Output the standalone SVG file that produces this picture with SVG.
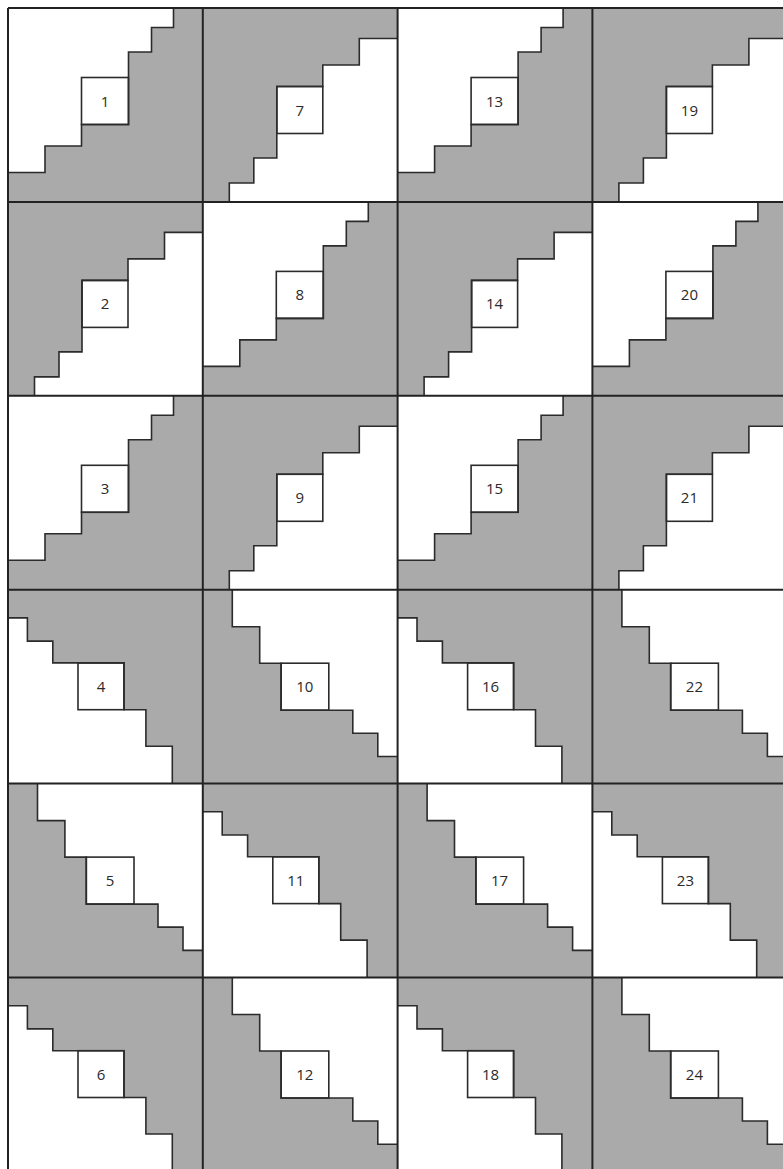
<svg xmlns="http://www.w3.org/2000/svg" xmlns:xlink="http://www.w3.org/1999/xlink" width="783" height="1169" viewBox="0 0 783 1169">
<style>
.bg{fill:#ffffff}
.gray{fill:#aaaaaa;stroke:none}
.stair{fill:none;stroke:#2b2b2b;stroke-width:1.6;stroke-linejoin:miter}
.box{fill:#ffffff;stroke:#2b2b2b;stroke-width:1.6}
.lbl{font-family:"Open Sans","Liberation Sans",sans-serif;font-size:15px;fill:#2a2a2a;text-anchor:middle}
.grid{stroke:#222222;stroke-width:2;fill:none}
</style>
<defs>
<g id="typeP">
<rect class="bg" x="0" y="0" width="194.8" height="193.9"/>
<polygon class="gray" points="165.5,0 165.5,19.5 143.5,19.5 143.5,44 120.5,44 120.5,116.5 73.5,116.5 73.5,138 37,138 37,164.5 0,164.5 0,193.9 194.8,193.9 194.8,0"/>
<rect class="box" x="73.5" y="69.5" width="47" height="47"/>
<path class="stair" d="M165.5,0 V19.5 H143.5 V44 H120.5 V116.5 H73.5 V138 H37 V164.5 H0"/>
</g>
<g id="typeQ">
<rect class="bg" x="0" y="0" width="194.8" height="193.9"/>
<polygon class="gray" points="0,0 194.8,0 194.8,30.5 156.5,30.5 156.5,57 120,57 120,78.5 74,78.5 74,150 51,150 51,175 26.5,175 26.5,193.9 0,193.9"/>
<rect class="box" x="74" y="78.5" width="46" height="47"/>
<path class="stair" d="M194.8,30.5 H156.5 V57 H120 V78.5 H74 V150 H51 V175 H26.5 V193.9"/>
</g>
<g id="typeR">
<rect class="bg" x="0" y="0" width="194.8" height="193.9"/>
<polygon class="gray" points="0,0 194.8,0 194.8,193.9 164.3,193.9 164.3,156.5 137.9,156.5 137.9,120 116,120 116,73.2 44.8,73.2 44.8,51.4 19.4,51.4 19.4,28.2 0,28.2"/>
<rect class="box" x="70" y="73.2" width="46" height="46.8"/>
<path class="stair" d="M0,28.2 H19.4 V51.4 H44.8 V73.2 H116 V120 H137.9 V156.5 H164.3 V193.9"/>
</g>
<g id="typeT">
<rect class="bg" x="0" y="0" width="194.8" height="193.9"/>
<polygon class="gray" points="0,0 29.5,0 29.5,37 56.9,37 56.9,73.5 78.3,73.5 78.3,120.5 150,120.5 150,143.5 175,143.5 175,166.8 194.8,166.8 194.8,193.9 0,193.9"/>
<rect class="box" x="78.3" y="73.5" width="47.7" height="47"/>
<path class="stair" d="M29.5,0 V37 H56.9 V73.5 H78.3 V120.5 H150 V143.5 H175 V166.8 H194.8"/>
</g>
</defs>
<rect x="0" y="0" width="783" height="1169" fill="#ffffff"/>

<g id="cell-1" transform="translate(8,8)"><use xlink:href="#typeP"/><text class="lbl" x="97" y="98.5">1</text></g>
<g id="cell-2" transform="translate(8,201.9)"><use xlink:href="#typeQ"/><text class="lbl" x="97" y="107.5">2</text></g>
<g id="cell-3" transform="translate(8,395.8)"><use xlink:href="#typeP"/><text class="lbl" x="97" y="98.5">3</text></g>
<g id="cell-4" transform="translate(8,589.7)"><use xlink:href="#typeR"/><text class="lbl" x="93" y="102">4</text></g>
<g id="cell-5" transform="translate(8,783.6)"><use xlink:href="#typeT"/><text class="lbl" x="102" y="102.5">5</text></g>
<g id="cell-6" transform="translate(8,977.5)"><use xlink:href="#typeR"/><text class="lbl" x="93" y="102">6</text></g>

<g id="cell-7" transform="translate(202.8,8)"><use xlink:href="#typeQ"/><text class="lbl" x="97" y="107.5">7</text></g>
<g id="cell-8" transform="translate(202.8,201.9)"><use xlink:href="#typeP"/><text class="lbl" x="97" y="98.5">8</text></g>
<g id="cell-9" transform="translate(202.8,395.8)"><use xlink:href="#typeQ"/><text class="lbl" x="97" y="107.5">9</text></g>
<g id="cell-10" transform="translate(202.8,589.7)"><use xlink:href="#typeT"/><text class="lbl" x="102" y="102.5">10</text></g>
<g id="cell-11" transform="translate(202.8,783.6)"><use xlink:href="#typeR"/><text class="lbl" x="93" y="102">11</text></g>
<g id="cell-12" transform="translate(202.8,977.5)"><use xlink:href="#typeT"/><text class="lbl" x="102" y="102.5">12</text></g>

<g id="cell-13" transform="translate(397.6,8)"><use xlink:href="#typeP"/><text class="lbl" x="97" y="98.5">13</text></g>
<g id="cell-14" transform="translate(397.6,201.9)"><use xlink:href="#typeQ"/><text class="lbl" x="97" y="107.5">14</text></g>
<g id="cell-15" transform="translate(397.6,395.8)"><use xlink:href="#typeP"/><text class="lbl" x="97" y="98.5">15</text></g>
<g id="cell-16" transform="translate(397.6,589.7)"><use xlink:href="#typeR"/><text class="lbl" x="93" y="102">16</text></g>
<g id="cell-17" transform="translate(397.6,783.6)"><use xlink:href="#typeT"/><text class="lbl" x="102" y="102.5">17</text></g>
<g id="cell-18" transform="translate(397.6,977.5)"><use xlink:href="#typeR"/><text class="lbl" x="93" y="102">18</text></g>

<g id="cell-19" transform="translate(592.4,8)"><use xlink:href="#typeQ"/><text class="lbl" x="97" y="107.5">19</text></g>
<g id="cell-20" transform="translate(592.4,201.9)"><use xlink:href="#typeP"/><text class="lbl" x="97" y="98.5">20</text></g>
<g id="cell-21" transform="translate(592.4,395.8)"><use xlink:href="#typeQ"/><text class="lbl" x="97" y="107.5">21</text></g>
<g id="cell-22" transform="translate(592.4,589.7)"><use xlink:href="#typeT"/><text class="lbl" x="102" y="102.5">22</text></g>
<g id="cell-23" transform="translate(592.4,783.6)"><use xlink:href="#typeR"/><text class="lbl" x="93" y="102">23</text></g>
<g id="cell-24" transform="translate(592.4,977.5)"><use xlink:href="#typeT"/><text class="lbl" x="102" y="102.5">24</text></g>

<g id="grid" class="grid">
<line x1="8" y1="8" x2="8" y2="1169"/>
<line x1="202.8" y1="8" x2="202.8" y2="1169"/>
<line x1="397.6" y1="8" x2="397.6" y2="1169"/>
<line x1="592.4" y1="8" x2="592.4" y2="1169"/>
<line x1="8" y1="8" x2="783" y2="8"/>
<line x1="8" y1="201.9" x2="783" y2="201.9"/>
<line x1="8" y1="395.8" x2="783" y2="395.8"/>
<line x1="8" y1="589.7" x2="783" y2="589.7"/>
<line x1="8" y1="783.6" x2="783" y2="783.6"/>
<line x1="8" y1="977.5" x2="783" y2="977.5"/>
</g>
</svg>
